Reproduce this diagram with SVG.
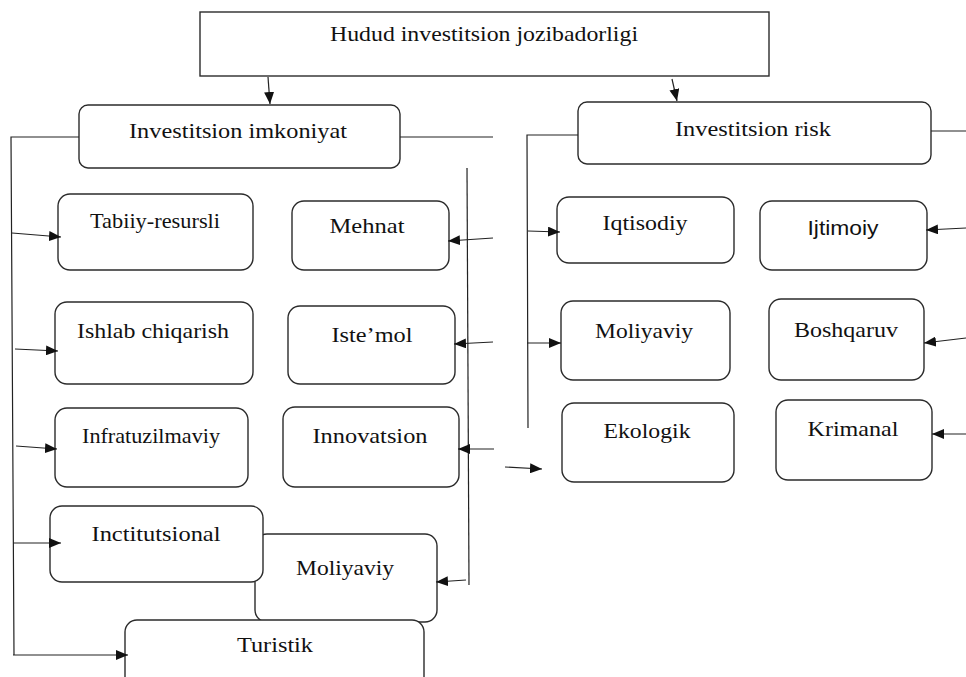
<svg xmlns="http://www.w3.org/2000/svg" width="966" height="677" viewBox="0 0 966 677">
<style>
.box{fill:#fff;stroke:#2b2b2b;stroke-width:1.4}
.t{font-family:"Liberation Serif","Times New Roman",serif;font-size:22px;fill:#111;text-anchor:middle}
.s{font-family:"Liberation Sans",Arial,sans-serif;font-size:20px;fill:#111;text-anchor:middle}
.c{fill:none;stroke:#222;stroke-width:1.2}
.a{fill:none;stroke:#222;stroke-width:1.2;marker-end:url(#ah)}
</style>
<defs>
<marker id="ah" markerWidth="12" markerHeight="10" refX="12" refY="5" orient="auto" markerUnits="userSpaceOnUse">
<path d="M0,0 L12,5 L0,10 z" fill="#111"/>
</marker>
</defs>
<rect width="966" height="677" fill="#fff"/>
<g id="nodes">
<g id="n-top"><rect class="box" x="200" y="12" width="569" height="64"/><text class="t" x="484" y="41" textLength="308" lengthAdjust="spacingAndGlyphs">Hudud investitsion jozibadorligi</text></g>
<g id="n-imkoniyat"><rect class="box" x="79" y="105" width="321" height="63" rx="9"/><text class="t" x="238" y="138" textLength="218" lengthAdjust="spacingAndGlyphs">Investitsion imkoniyat</text></g>
<g id="n-risk"><rect class="box" x="578" y="102" width="353" height="62" rx="9"/><text class="t" x="753" y="136" textLength="156" lengthAdjust="spacingAndGlyphs">Investitsion risk</text></g>
<g id="n-tabiiy"><rect class="box" x="58" y="194" width="195" height="76" rx="12"/><text class="t" x="155" y="228" textLength="130" lengthAdjust="spacingAndGlyphs">Tabiiy-resursli</text></g>
<g id="n-mehnat"><rect class="box" x="292" y="201" width="157" height="69" rx="12"/><text class="t" x="367" y="233" textLength="75" lengthAdjust="spacingAndGlyphs">Mehnat</text></g>
<g id="n-ishlab"><rect class="box" x="55" y="302" width="198" height="82" rx="12"/><text class="t" x="153" y="338" textLength="152" lengthAdjust="spacingAndGlyphs">Ishlab chiqarish</text></g>
<g id="n-istemol"><rect class="box" x="288" y="306" width="167" height="78" rx="12"/><text class="t" x="372" y="342" textLength="81" lengthAdjust="spacingAndGlyphs">Iste’mol</text></g>
<g id="n-infra"><rect class="box" x="55" y="408" width="193" height="79" rx="12"/><text class="t" x="151" y="443" textLength="138" lengthAdjust="spacingAndGlyphs">Infratuzilmaviy</text></g>
<g id="n-innov"><rect class="box" x="283" y="407" width="176" height="80" rx="12"/><text class="t" x="370" y="443" textLength="115" lengthAdjust="spacingAndGlyphs">Innovatsion</text></g>
<g id="n-moliyaviy1"><rect class="box" x="255" y="534" width="182" height="88" rx="12"/><text class="t" x="345" y="575" textLength="98" lengthAdjust="spacingAndGlyphs">Moliyaviy</text></g>
<g id="n-inctit"><rect class="box" x="50" y="506" width="213" height="76" rx="12"/><text class="t" x="156" y="541" textLength="129" lengthAdjust="spacingAndGlyphs">Inctitutsional</text></g>
<g id="n-turistik"><rect class="box" x="125" y="620" width="299" height="80" rx="12"/><text class="t" x="275" y="652" textLength="76" lengthAdjust="spacingAndGlyphs">Turistik</text></g>
<g id="n-iqtisodiy"><rect class="box" x="557" y="197" width="177" height="66" rx="12"/><text class="t" x="645" y="230" textLength="85" lengthAdjust="spacingAndGlyphs">Iqtisodiy</text></g>
<g id="n-ijtimoiy"><rect class="box" x="760" y="201" width="167" height="69" rx="12"/><text class="s" x="843" y="235" textLength="71" lengthAdjust="spacingAndGlyphs">Ijtimoiy</text></g>
<g id="n-moliyaviy2"><rect class="box" x="561" y="301" width="169" height="79" rx="12"/><text class="t" x="644" y="338" textLength="98" lengthAdjust="spacingAndGlyphs">Moliyaviy</text></g>
<g id="n-boshqaruv"><rect class="box" x="769" y="299" width="155" height="81" rx="12"/><text class="t" x="846" y="337" textLength="104" lengthAdjust="spacingAndGlyphs">Boshqaruv</text></g>
<g id="n-ekologik"><rect class="box" x="562" y="403" width="172" height="79" rx="12"/><text class="t" x="647" y="438" textLength="87" lengthAdjust="spacingAndGlyphs">Ekologik</text></g>
<g id="n-krimanal"><rect class="box" x="776" y="400" width="156" height="80" rx="12"/><text class="t" x="853" y="436" textLength="91" lengthAdjust="spacingAndGlyphs">Krimanal</text></g>
</g>
<g id="connectors">
<path class="a" d="M268,77 L270,104"/>
<path class="a" d="M672,79 L677,101"/>
<path class="c" d="M79,137 L11,137 L14,655"/>
<path class="c" d="M400,137 L493,137"/>
<path class="c" d="M467,168 L469,585"/>
<path class="c" d="M578,135 L527,135 L528,428"/>
<path class="c" d="M931,131 L966,131"/>
<path class="a" d="M12,233 L61,237"/>
<path class="a" d="M493,238 L448,241"/>
<path class="a" d="M15,349 L58,351"/>
<path class="a" d="M493,342 L454,344"/>
<path class="a" d="M16,446 L57,449"/>
<path class="a" d="M494,449 L458,449"/>
<path class="a" d="M13,543 L61,543"/>
<path class="a" d="M466,580 L436,582"/>
<path class="a" d="M13,655 L128,655"/>
<path class="a" d="M528,231 L560,232"/>
<path class="a" d="M966,228 L926,230"/>
<path class="a" d="M527,343 L561,343"/>
<path class="a" d="M966,338 L924,343"/>
<path class="a" d="M505,467 L542,469"/>
<path class="a" d="M966,434 L932,434"/>
</g>
</svg>
